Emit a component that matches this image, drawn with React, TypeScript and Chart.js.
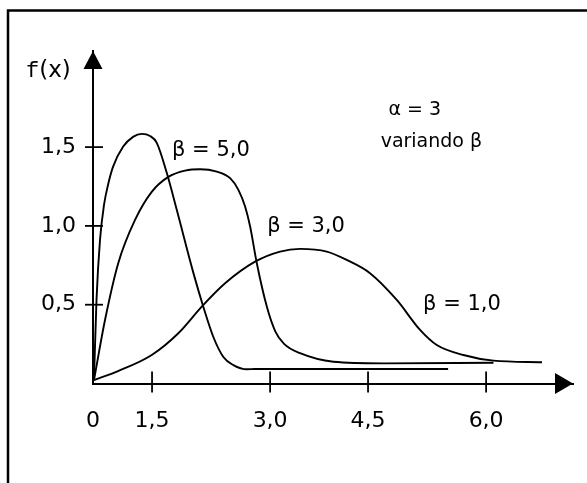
import React, { useEffect, useRef } from 'react';
import { Chart, registerables, LinearScale } from 'chart.js';

Chart.register(...registerables);

// ---- tick values and labels ----
const xTickValues = [0, 1.5, 3.0, 4.5, 6.0];
const xTickLabels = ['0', '1,5', '3,0', '4,5', '6,0'];
const yTickValues = [0.5, 1.0, 1.5];
const yTickLabels = ['0,5', '1,0', '1,5'];

// ---- series ----
const beta5X = [0.025, 0.089, 0.178, 0.28, 0.381, 0.508, 0.763, 1.017, 1.238, 1.449, 1.56, 1.687, 1.814, 2.025, 2.152, 2.279, 2.406, 2.533, 2.704, 2.809, 5.517];
const beta5Y = [0.022, 0.53, 0.911, 1.133, 1.26, 1.375, 1.502, 1.565, 1.584, 1.571, 1.527, 1.337, 1.102, 0.702, 0.486, 0.295, 0.168, 0.117, 0.09, 0.092, 0.092];

const beta3X = [0.025, 0.305, 0.643, 1.068, 1.492, 1.707, 1.919, 2.11, 2.322, 2.492, 2.597, 2.682, 2.746, 2.831, 2.958, 3.077, 3.214, 3.459, 3.969, 4.694, 6.093];
const beta3Y = [0.022, 0.403, 0.765, 1.038, 1.216, 1.311, 1.351, 1.36, 1.345, 1.303, 1.229, 1.123, 0.996, 0.763, 0.488, 0.333, 0.251, 0.192, 0.138, 0.128, 0.132];

const beta1X = [0.025, 0.636, 1.492, 1.834, 2.132, 2.428, 2.809, 3.153, 3.459, 3.868, 4.174, 4.525, 4.865, 5.161, 5.373, 5.711, 6.093, 6.708];
const beta1Y = [0.022, 0.079, 0.181, 0.319, 0.488, 0.636, 0.773, 0.837, 0.854, 0.837, 0.784, 0.7, 0.53, 0.34, 0.244, 0.181, 0.145, 0.135];

// ---- annotation texts ----
const curveLabels = ['β = 5,0', 'β = 3,0', 'β = 1,0'];
const curveLabelX = [1.754, 2.962, 5.199];
const curveLabelY = [1.476, 0.994, 0.498];
const titleLines = ['α = 3', 'variando β'];
const titleX = [4.76, 4.66];
const titleY = [1.737, 1.533];

// ---- sketch x-axis (tick spacing of the hand drawing is uneven) ----
const X_MIN = 0;
const X_MAX = 7.1;
const xAnchorValues = [0, 1.5, 3.0, 4.5, 6.0, 7.1];
const xAnchorDecimals = [0, 0.123, 0.369, 0.573, 0.819, 1];
const Y_MAX = 2.11;

function valueToDecimal(v: number): number {
  const n = xAnchorValues.length;
  let i = 0;
  if (v <= xAnchorValues[0]) i = 0;
  else if (v >= xAnchorValues[n - 1]) i = n - 2;
  else {
    while (i < n - 2 && v > xAnchorValues[i + 1]) i++;
  }
  const v0 = xAnchorValues[i], v1 = xAnchorValues[i + 1];
  const d0 = xAnchorDecimals[i], d1 = xAnchorDecimals[i + 1];
  return d0 + ((v - v0) / (v1 - v0)) * (d1 - d0);
}
function decimalToValue(d: number): number {
  const n = xAnchorDecimals.length;
  let i = 0;
  if (d <= xAnchorDecimals[0]) i = 0;
  else if (d >= xAnchorDecimals[n - 1]) i = n - 2;
  else {
    while (i < n - 2 && d > xAnchorDecimals[i + 1]) i++;
  }
  const v0 = xAnchorValues[i], v1 = xAnchorValues[i + 1];
  const d0 = xAnchorDecimals[i], d1 = xAnchorDecimals[i + 1];
  return v0 + ((d - d0) / (d1 - d0)) * (v1 - v0);
}

class SketchScale extends LinearScale {
  static id = 'sketch';
  static defaults = (LinearScale as any).defaults;
  getPixelForValue(value: any) {
    if (value === null || value === undefined || isNaN(value)) return NaN;
    return (this as any).getPixelForDecimal(valueToDecimal(+value));
  }
  getValueForPixel(pixel: number) {
    return decimalToValue((this as any).getDecimalForPixel(pixel));
  }
}
Chart.register(SketchScale as any);

const FONT = '"DejaVu Sans", "Noto Sans", sans-serif';

const sketchPlugin = {
  id: 'sketchDecor',
  beforeDraw(chart: any) {
    const ctx = chart.ctx;
    ctx.save();
    ctx.fillStyle = '#ffffff';
    ctx.fillRect(0, 0, chart.width, chart.height);
    // frame (right / bottom edges lie outside the picture)
    ctx.strokeStyle = '#000';
    ctx.lineWidth = 2.5;
    ctx.beginPath();
    ctx.moveTo(8, chart.height + 5);
    ctx.lineTo(8, 10.5);
    ctx.lineTo(chart.width + 5, 10.5);
    ctx.stroke();
    ctx.restore();
  },
  afterDraw(chart: any) {
    const ctx = chart.ctx;
    const xs = chart.scales.x;
    const ys = chart.scales.y;
    const { left, right, top, bottom } = chart.chartArea;
    ctx.save();
    ctx.strokeStyle = '#000';
    ctx.fillStyle = '#000';
    ctx.lineWidth = 1.8;
    // crossing tick marks
    xs.ticks.forEach((t: any) => {
      if (t.value === 0) return;
      const px = xs.getPixelForValue(t.value);
      ctx.beginPath();
      ctx.moveTo(px, bottom - 12);
      ctx.lineTo(px, bottom + 9);
      ctx.stroke();
    });
    ys.ticks.forEach((t: any) => {
      const py = ys.getPixelForValue(t.value);
      ctx.beginPath();
      ctx.moveTo(left - 8, py);
      ctx.lineTo(left + 10, py);
      ctx.stroke();
    });
    // arrow heads
    ctx.beginPath();
    ctx.moveTo(left, top);
    ctx.lineTo(left - 9.5, top + 18);
    ctx.lineTo(left + 9.5, top + 18);
    ctx.closePath();
    ctx.fill();
    ctx.beginPath();
    ctx.moveTo(right, bottom);
    ctx.lineTo(right - 18, bottom - 10.5);
    ctx.lineTo(right - 18, bottom + 10.5);
    ctx.closePath();
    ctx.fill();

    // annotations
    ctx.textBaseline = 'middle';
    ctx.textAlign = 'left';
    ctx.font = '21px ' + FONT;
    curveLabels.forEach((s, i) => {
      ctx.fillText(s, xs.getPixelForValue(curveLabelX[i]), ys.getPixelForValue(curveLabelY[i]));
    });
    ctx.font = '19px ' + FONT;
    titleLines.forEach((s, i) => {
      ctx.fillText(s, xs.getPixelForValue(titleX[i]), ys.getPixelForValue(titleY[i]));
    });
    // axis title f(x)
    const fy = ys.getPixelForValue(1.984);
    ctx.font = '22px "Liberation Mono", monospace';
    ctx.fillText('f', left - 67, fy);
    const fw = ctx.measureText('f').width;
    ctx.font = '23px ' + FONT;
    ctx.fillText('(x)', left - 67 + fw, fy);
    ctx.restore();
  },
};

function makeSeries(xs: number[], ys: number[]) {
  return xs.map((x, i) => ({ x, y: ys[i] }));
}

export default function App() {
  const ref = useRef<HTMLCanvasElement | null>(null);
  useEffect(() => {
    if (!ref.current) return;
    const line = (data: any) => ({
      data,
      borderColor: '#000',
      borderWidth: 1.9,
      pointRadius: 0,
      fill: false,
      cubicInterpolationMode: 'monotone' as const,
    });
    const chart = new Chart(ref.current, {
      type: 'line',
      data: {
        datasets: [
          line(makeSeries(beta5X, beta5Y)),
          line(makeSeries(beta3X, beta3Y)),
          line(makeSeries(beta1X, beta1Y)),
        ],
      },
      options: {
        animation: false,
        responsive: false,
        devicePixelRatio: 1,
        layout: { padding: { top: 51, right: 14, left: 0, bottom: 0 } },
        plugins: { legend: { display: false }, tooltip: { enabled: false } },
        scales: {
          x: {
            type: 'sketch' as any,
            min: X_MIN,
            max: X_MAX,
            afterBuildTicks: (s: any) => {
              s.ticks = xTickValues.map((v) => ({ value: v }));
            },
            afterFit: (s: any) => {
              s.height = 99.5;
            },
            grid: { display: false, drawTicks: false },
            border: { display: true, color: '#000', width: 2 },
            ticks: {
              autoSkip: false,
              maxRotation: 0,
              padding: 25,
              color: '#000',
              font: { family: FONT, size: 22 },
              callback: (_v: any, i: number) => xTickLabels[i],
            },
          },
          y: {
            type: 'linear',
            min: 0,
            max: Y_MAX,
            afterBuildTicks: (s: any) => {
              s.ticks = yTickValues.map((v) => ({ value: v }));
            },
            afterFit: (s: any) => {
              s.width = 93;
            },
            grid: { display: false, drawTicks: false },
            border: { display: true, color: '#000', width: 2 },
            ticks: {
              autoSkip: false,
              padding: 17,
              color: '#000',
              font: { family: FONT, size: 22 },
              callback: (_v: any, i: number) => yTickLabels[i],
            },
          },
        },
      },
      plugins: [sketchPlugin],
    });
    return () => chart.destroy();
  }, []);
  return (
    <div style={{ position: 'fixed', left: 0, top: 0, width: 587, height: 483, background: '#fff' }}>
      <canvas ref={ref} width={587} height={483} style={{ display: 'block', width: 587, height: 483 }} />
    </div>
  );
}
